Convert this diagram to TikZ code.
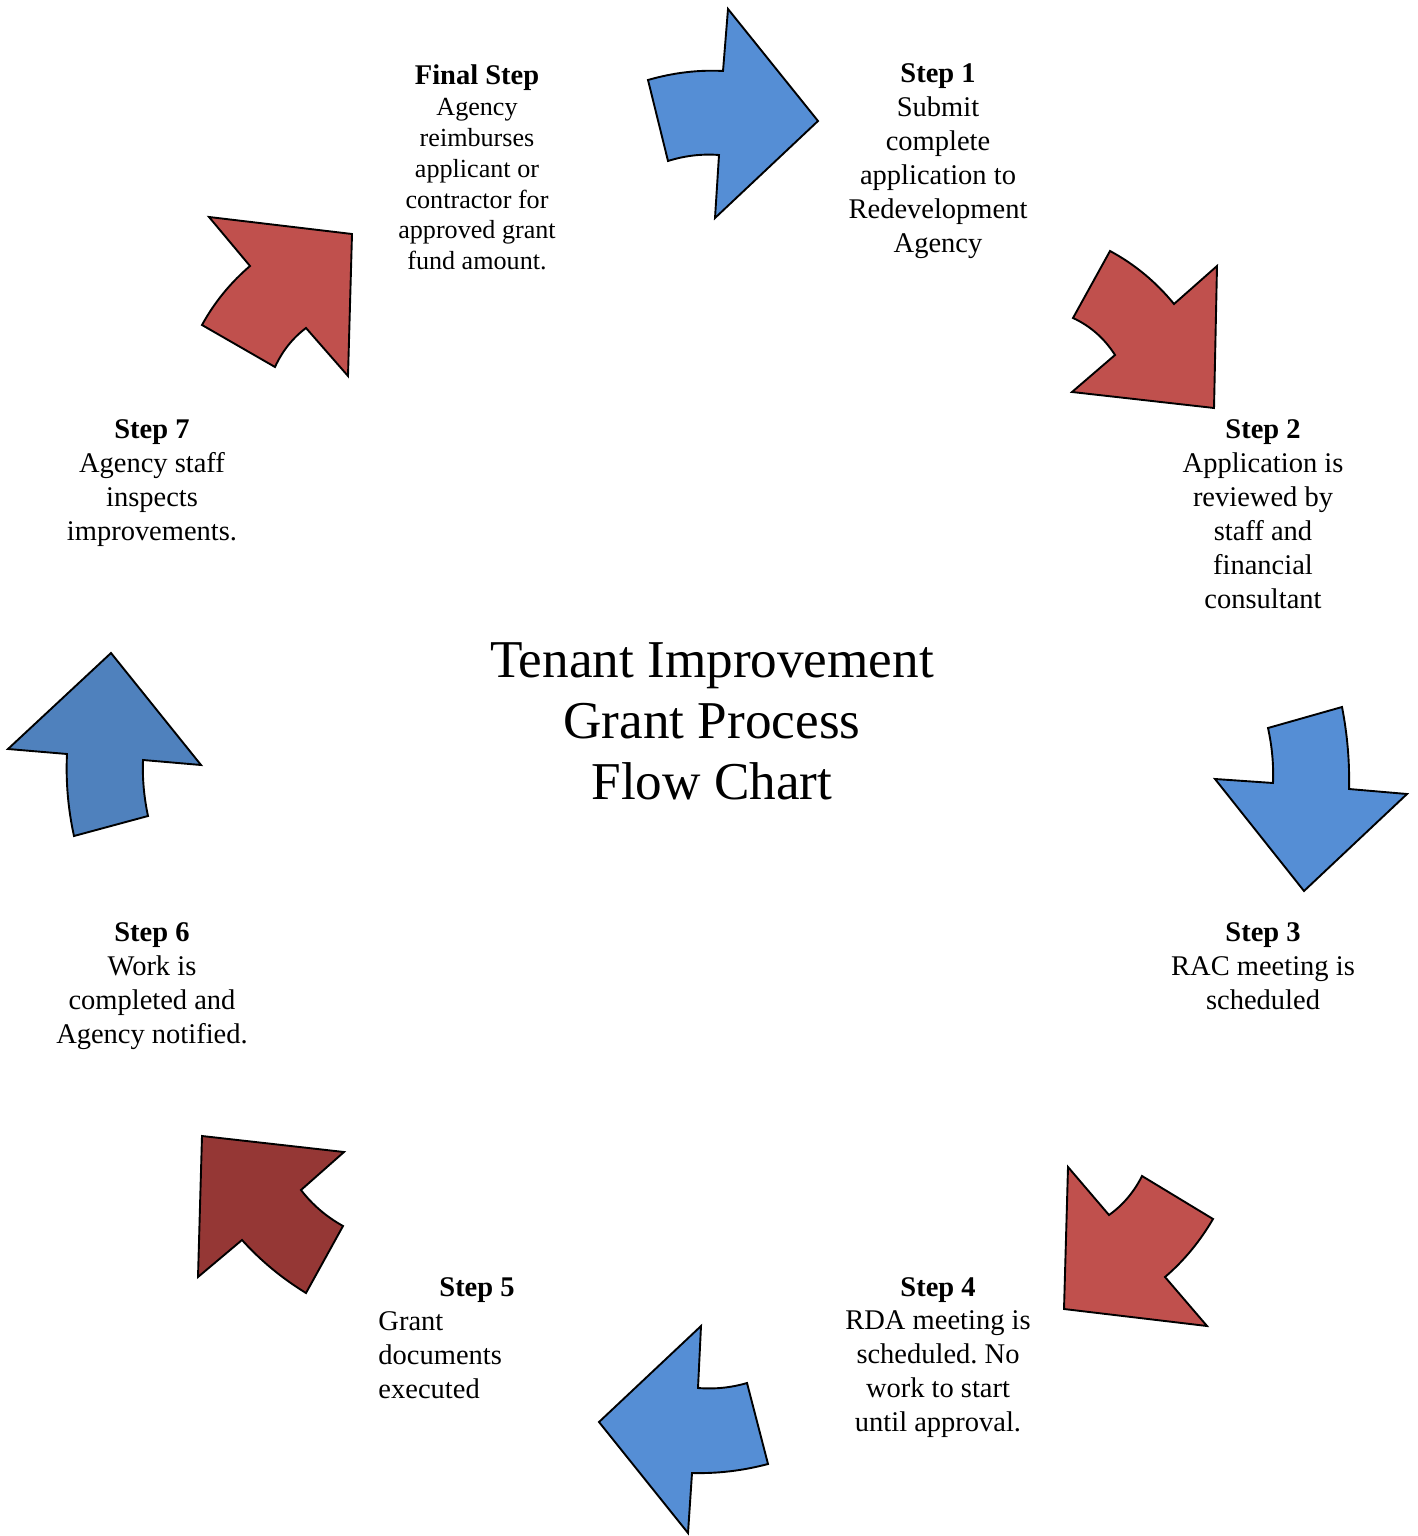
\documentclass[tikz,border=0pt]{standalone}
\usepackage{fontspec}
\setmainfont{Liberation Serif}
\usetikzlibrary{positioning}
\frenchspacing

\definecolor{arrowblue}{RGB}{85,142,213}
\definecolor{arrowsteel}{RGB}{79,129,189}
\definecolor{arrowred}{RGB}{192,80,77}
\definecolor{arrowdark}{RGB}{149,55,53}

\tikzset{
  arrowshape/.style={draw=black, line width=0.8pt, line join=miter},
  steptext/.style={align=center, inner sep=0pt, font=\fontsize{12}{14.3}\selectfont}
}

\begin{document}
\begin{tikzpicture}[x=0.0148cm, y=-0.0148cm]
\useasboundingbox (0,0) rectangle (1417,1536);

% ---- Curved block arrows, clockwise from the top ----
% top
\draw[arrowshape, fill=arrowblue] (648,80) .. controls (673.3,72.7) and (698.3,69.7) .. (723,71) -- (728,9) -- (818,121)
  -- (715,218) -- (719,155) .. controls (701.7,153.7) and (684.7,155.7) .. (668,161) -- cycle;
% upper right
\draw[arrowshape, fill=arrowred] (1110,251) .. controls (1134.7,264.3) and (1156,282) .. (1174,304) -- (1217,266) -- (1214,408)
  -- (1072,392) -- (1115,355) .. controls (1104.3,338.3) and (1090.3,326) .. (1073,318) -- cycle;
% right
\draw[arrowshape, fill=arrowblue] (1342,707) .. controls (1347.3,734.3) and (1349.7,761.7) .. (1349,789) -- (1407,794) -- (1304,891)
  -- (1215,779) -- (1273,783) .. controls (1273.7,764.3) and (1272,746.3) .. (1268,728) -- cycle;
% lower right
\draw[arrowshape, fill=arrowred] (1068,1167) -- (1109,1215) .. controls (1123,1205) and (1134,1192) .. (1142,1176) -- (1213,1219)
  .. controls (1199.7,1241.7) and (1183.7,1261) .. (1165,1277) -- (1207,1326) -- (1064,1309) -- cycle;
% bottom
\draw[arrowshape, fill=arrowblue] (701,1326) -- (698,1388) .. controls (714.7,1389.3) and (731,1387.7) .. (747,1383) -- (768,1464)
  .. controls (742.7,1470.7) and (717.3,1473.7) .. (692,1473) -- (688,1533) -- (599,1422) -- cycle;
% lower left
\draw[arrowshape, fill=arrowdark] (202,1136) -- (344,1152) -- (301,1190) .. controls (312.3,1204.7) and (326.3,1216.7) .. (343,1226)
  -- (306,1293) .. controls (282,1278.3) and (260.7,1260.7) .. (242,1240) -- (198,1277) -- cycle;
% left
\draw[arrowshape, fill=arrowsteel] (74,836) .. controls (68,808.7) and (65.7,781.3) .. (67,754) -- (8,749) -- (111,653)
  -- (201,765) -- (143,760) .. controls (142.3,778.7) and (144,797.3) .. (148,816) -- cycle;
% upper left
\draw[arrowshape, fill=arrowred] (209,217) -- (352,234) -- (348,376) -- (306,328) .. controls (292.7,338) and (282.3,351) .. (275,367)
  -- (202,325) .. controls (214.7,301.7) and (231.3,282) .. (250,266) -- cycle;

% ---- Step texts ----
\node[steptext] (stepone) at (938,161.5) {\textbf{Step 1}\\Submit\\complete\\application to\\Redevelopment\\Agency};
\node[steptext] (steptwo) at (1263,514) {\textbf{Step 2}\\Application is\\reviewed by\\staff and\\financial\\consultant};
\node[steptext] (stepthree) at (1263,966) {\textbf{Step 3}\\RAC meeting is\\scheduled};
\node[steptext] (stepfour) at (938,1357.5) {\textbf{Step 4}\\RDA meeting is\\scheduled. No\\work to start\\until approval.};
\node[steptext] (stepfivetitle) at (477,1290) {\textbf{Step 5}};
\node[steptext, align=left, anchor=west] (stepfive) at (378,1355) {Grant\\documents\\executed};
\node[steptext] (stepsix) at (152,986) {\textbf{Step 6}\\Work is\\completed and\\Agency notified.};
\node[steptext] (stepseven) at (152,483) {\textbf{Step 7}\\Agency staff\\inspects\\improvements.};
\node[steptext, font=\fontsize{11}{13}\selectfont] (stepfinal) at (477,167.5)
  {{\fontsize{12}{13}\selectfont\textbf{Final Step}}\\Agency\\reimburses\\applicant or\\contractor for\\approved grant\\fund amount.};

% ---- Title ----
\node[align=center, inner sep=0pt, font=\fontsize{22.4}{25.7}\selectfont] (title) at (712,721)
  {Tenant Improvement\\Grant Process\\Flow Chart};

\end{tikzpicture}
\end{document}
